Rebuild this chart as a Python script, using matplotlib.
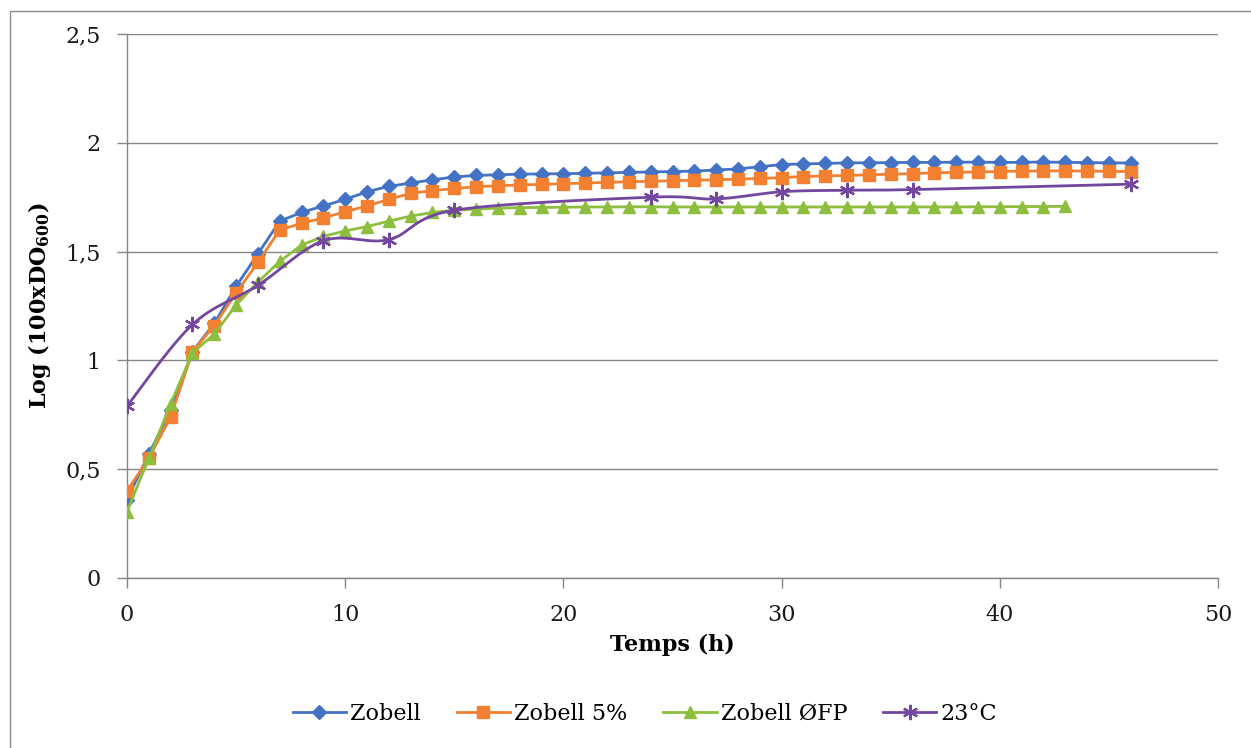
import numpy as np
import matplotlib
matplotlib.use("Agg")
import matplotlib.pyplot as plt
from matplotlib.patches import Rectangle

plt.rcParams['font.family'] = ['DejaVu Serif']
plt.rcParams['mathtext.fontset'] = 'dejavuserif'

# ---- data ----
hours = list(range(0, 47))
zobell = [0.36, 0.57, 0.77, 1.04, 1.17, 1.34, 1.49, 1.64, 1.68, 1.71,
          1.74, 1.775, 1.80, 1.815, 1.83, 1.843, 1.85, 1.853, 1.856, 1.857,
          1.858, 1.86, 1.862, 1.864, 1.866, 1.868, 1.87, 1.875, 1.88, 1.89,
          1.90, 1.903, 1.905, 1.908, 1.908, 1.909, 1.91, 1.91, 1.911, 1.911,
          1.91, 1.91, 1.912, 1.91, 1.909, 1.908, 1.907]
zobell_5 = [0.40, 0.55, 0.74, 1.04, 1.16, 1.31, 1.45, 1.60, 1.63, 1.655,
            1.683, 1.71, 1.74, 1.768, 1.78, 1.79, 1.798, 1.803, 1.806, 1.809,
            1.812, 1.815, 1.818, 1.821, 1.823, 1.826, 1.828, 1.83, 1.833, 1.836,
            1.84, 1.845, 1.848, 1.85, 1.853, 1.856, 1.858, 1.862, 1.864, 1.866,
            1.868, 1.87, 1.871, 1.871, 1.87, 1.869, 1.868]
hours_fp = list(range(0, 44))
zobell_fp = [0.305, 0.55, 0.80, 1.035, 1.12, 1.255, 1.36, 1.455, 1.53, 1.57,
             1.595, 1.615, 1.64, 1.663, 1.68, 1.69, 1.695, 1.70, 1.702, 1.703,
             1.704, 1.705, 1.705, 1.706, 1.706, 1.705, 1.705, 1.705, 1.705, 1.705,
             1.705, 1.705, 1.705, 1.705, 1.705, 1.705, 1.705, 1.705, 1.705, 1.706,
             1.706, 1.707, 1.707, 1.708]
hours_23 = [0, 3, 6, 9, 12, 15, 24, 27, 30, 33, 36, 46]
temp_23 = [0.79, 1.165, 1.345, 1.55, 1.555, 1.69, 1.75, 1.742, 1.775, 1.782,
           1.785, 1.81]

yticks = [0, 0.5, 1, 1.5, 2, 2.5]
ytick_labels = ['0', '0,5', '1', '1,5', '2', '2,5']
xticks = [0, 10, 20, 30, 40, 50]


def smooth_line(x, y, n=30):
    # Excel-like smoothed line: bezier through points (catmull-rom tangents)
    pts = np.column_stack([x, y]).astype(float)
    out = [pts[0]]
    for i in range(len(pts) - 1):
        p0 = pts[i - 1] if i > 0 else pts[i]
        p1 = pts[i]
        p2 = pts[i + 1]
        p3 = pts[i + 2] if i + 2 < len(pts) else pts[i + 1]
        c1 = p1 + (p2 - p0) / 6.0
        c2 = p2 - (p3 - p1) / 6.0
        t = np.linspace(0, 1, n)[1:, None]
        seg = ((1 - t) ** 3) * p1 + 3 * ((1 - t) ** 2) * t * c1 \
            + 3 * (1 - t) * t ** 2 * c2 + t ** 3 * p2
        out.extend(seg)
    out = np.array(out)
    return out[:, 0], out[:, 1]


grid_col = '#868686'
fig = plt.figure(figsize=(12.51, 7.48), dpi=100)
fig.patches.append(Rectangle((10 / 1251, -0.01), 1.02, 1 - 10.5 / 748 + 0.01,
                             transform=fig.transFigure, fill=False,
                             edgecolor='#8c8c8c', linewidth=1.0))
ax = fig.add_axes([127 / 1251, 170 / 748, 1091 / 1251, 544 / 748])

ax.plot(hours, zobell, color='#4472C4', lw=2, marker='D', ms=7,
        label='Zobell', zorder=3)
ax.plot(hours, zobell_5, color='#F28030', lw=2, marker='s', ms=8.5,
        label='Zobell 5%', zorder=4)
ax.plot(hours_fp, zobell_fp, color='#8DBE3E', lw=2, marker='^', ms=9,
        label='Zobell ØFP', zorder=5)
sx, sy = smooth_line(hours_23, temp_23)
ax.plot(sx, sy, color='#7346A0', lw=2, zorder=6)
ax.plot(hours_23, temp_23, color='#7346A0', lw=0, marker=(6, 2, 0), ms=11,
        mew=1.6, zorder=6)
# legend proxy for smoothed series
ax.plot([], [], color='#7346A0', lw=2, marker=(6, 2, 0), ms=11, mew=1.6,
        label='23°C')

ax.set_xlim(0, 50)
ax.set_ylim(0, 2.5)
ax.set_xticks(xticks)
ax.set_yticks(yticks)
ax.set_yticklabels(ytick_labels)
ax.tick_params(axis='both', labelsize=16, colors=grid_col, labelcolor='#1a1a1a',
               length=7, width=1.0, pad=12)
ax.grid(axis='y', color=grid_col, linewidth=1.0)
ax.set_axisbelow(True)
for s in ['top', 'right']:
    ax.spines[s].set_visible(False)
for s in ['left', 'bottom']:
    ax.spines[s].set_color(grid_col)
    ax.spines[s].set_linewidth(1.0)
ax.spines['left'].set_zorder(1)

fig.text(672 / 1251, 1 - 645 / 748, 'Temps (h)', ha='center', va='center',
         fontsize=16, fontweight='bold')
fig.text(40 / 1251, 1 - 306 / 748, r'Log (100xDO$_{\mathbf{600}}$)',
         ha='center', va='center', rotation=90, fontsize=16, fontweight='bold')

fig.legend(loc='center', bbox_to_anchor=(645 / 1251, 1 - 714 / 748), ncol=4,
           frameon=False, fontsize=16, handlelength=2.4, handletextpad=0.2,
           columnspacing=1.6)

fig.savefig('out.png', dpi=100)
